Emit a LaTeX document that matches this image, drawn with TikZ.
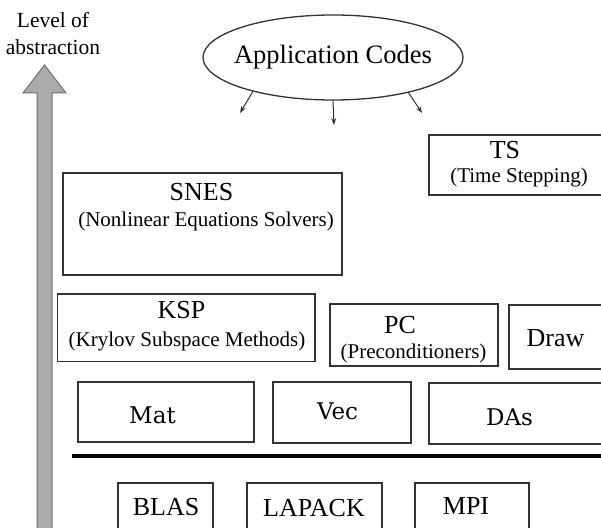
\documentclass[tikz,border=0pt]{standalone}
\usepackage{fontspec}
\setmainfont{Liberation Serif}
\newfontfamily\dvserif{DejaVu Serif}
\usetikzlibrary{shapes.geometric,arrows.meta}
\definecolor{boxc}{HTML}{333333}
\definecolor{arrfill}{HTML}{ABABAB}
\definecolor{arrline}{HTML}{6E6E6E}
\tikzset{
 boxst/.style={draw=boxc,line width=1.3bp,inner sep=0pt,outer sep=0pt,anchor=north west},
 ttl/.style={anchor=base,inner sep=0pt,font=\fontsize{26bp}{30bp}\selectfont},
 sub/.style={anchor=base,inner sep=0pt,font=\fontsize{21bp}{25bp}\selectfont},
 dvs/.style={anchor=base,inner sep=0pt,font=\dvserif\fontsize{23bp}{27bp}\selectfont},
 lvl/.style={anchor=base,inner sep=0pt,font=\fontsize{21.5bp}{25bp}\selectfont},
 conn/.style={draw=boxc,line width=1bp,-{Stealth[length=7bp,width=5bp]}},
}
\begin{document}
\begin{tikzpicture}[x=1bp,y=-1bp]
\useasboundingbox (0,0) rectangle (601,528);
\clip (0,0) rectangle (601,528);
\fill[white] (0,0) rectangle (601,528);
% abstraction arrow
\filldraw[fill=arrfill,draw=arrline,line width=1bp] (37,535) -- (37,93) -- (23,93) -- (44.5,65) -- (66,93) -- (52,93) -- (52,535) -- cycle;
\node[lvl] (lv1) at (53,28) {Level of};
\node[lvl] (lv2) at (53,55) {abstraction};
% application codes
\node[ellipse,draw=boxc,line width=1.3bp,minimum width=260bp,minimum height=85bp,inner sep=0pt] (app) at (333,57.5) {\fontsize{26.5bp}{30bp}\selectfont\makebox[0pt]{Application Codes}};
\coordinate (e1) at (240,113);
\coordinate (e2) at (334,125);
\coordinate (e3) at (422,113);
\draw[conn] (app.203) -- (e1);
\draw[conn] (app.south) -- (e2);
\draw[conn] (app.335) -- (e3);
% TS
\node[boxst,minimum width=181bp,minimum height=60bp] (ts) at (429,135) {};
\node[ttl] (tst) at (505,159) {TS};
\node[sub] (tss) at (519,183) {(Time Stepping)};
% SNES
\node[boxst,minimum width=279bp,minimum height=102bp] (snes) at (63,173) {};
\node[ttl] (snest) at (201.5,200.5) {SNES};
\node[sub] (sness) at (206,227) {(Nonlinear Equations Solvers)};
% KSP
\node[boxst,minimum width=257.5bp,minimum height=67.5bp] (ksp) at (57.5,294) {};
\node[ttl] (kspt) at (181.5,318) {KSP};
\node[sub] (ksps) at (187,346.5) {(Krylov Subspace Methods)};
% PC
\node[boxst,minimum width=168bp,minimum height=62bp] (pc) at (330,304) {};
\node[ttl] (pct) at (400,333) {PC};
\node[sub] (pcs) at (413.5,358.5) {(Preconditioners)};
% Draw
\node[boxst,minimum width=101bp,minimum height=64bp] (drw) at (509,305) {};
\node[ttl] (drwt) at (555.5,346.5) {Draw};
% Mat Vec DAs
\node[boxst,minimum width=176bp,minimum height=60bp] (mat) at (78,382) {};
\node[dvs] (matt) at (152.5,423) {Mat};
\node[boxst,minimum width=138bp,minimum height=61bp] (vec) at (273,382) {};
\node[dvs] (vect) at (337.5,419) {Vec};
\node[boxst,minimum width=181bp,minimum height=61bp] (das) at (429,383) {};
\node[dvs] (dast) at (509.5,425) {DAs};
% separator
\coordinate (sepL) at (71.7,456);
\coordinate (sepR) at (610,456);
\draw[line width=4.5bp,black] (sepL) -- (sepR);
% BLAS LAPACK MPI
\node[boxst,minimum width=95bp,minimum height=60bp] (blas) at (118,483) {};
\node[ttl] (blast) at (166,515) {BLAS};
\node[boxst,minimum width=135bp,minimum height=60bp] (lapack) at (247,483) {};
\node[ttl] (lapackt) at (314,516) {LAPACK};
\node[boxst,minimum width=114bp,minimum height=60bp] (mpi) at (415,483) {};
\node[ttl] (mpit) at (466,514) {MPI};
\end{tikzpicture}
\end{document}
